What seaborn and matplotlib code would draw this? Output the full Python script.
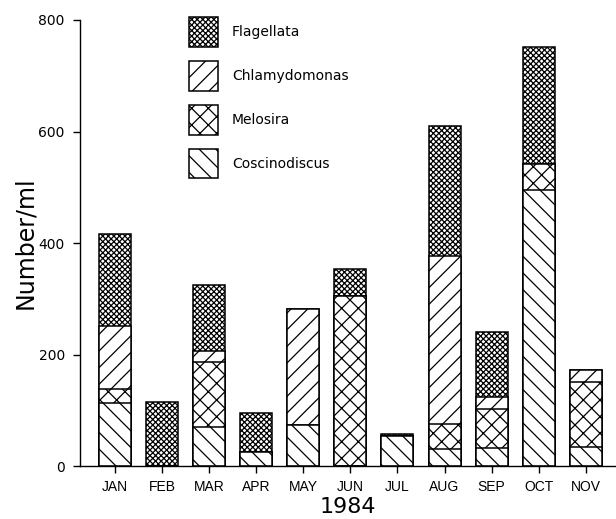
import seaborn as sns
from matplotlib import pyplot as plt
import pandas as pd

months = ['JAN', 'FEB', 'MAR', 'APR', 'MAY', 'JUN', 'JUL', 'AUG', 'SEP', 'OCT', 'NOV']
coscinodiscus = [113, 0, 70, 25, 74, 0, 54, 31, 32, 495, 34]
melosira = [26, 0, 116, 0, 0, 305, 0, 45, 70, 46, 116]
chlamydomonas = [113, 0, 21, 0, 207, 0, 0, 301, 21, 0, 23]
flagellata = [164, 115, 117, 70, 0, 48, 4, 232, 117, 210, 0]

# bottom -> top
series = [
    ('Coscinodiscus', coscinodiscus, '\\\\'),
    ('Melosira', melosira, 'xx'),
    ('Chlamydomonas', chlamydomonas, '//'),
    ('Flagellata', flagellata, 'xxxxxx'),
]

sns.set_style('ticks')
plt.rcParams['font.family'] = ['DejaVu Sans']
plt.rcParams['hatch.linewidth'] = 0.9
plt.rcParams['text.color'] = 'black'
plt.rcParams['axes.labelcolor'] = 'black'

df = pd.DataFrame({'month': months})
cum = [0] * len(months)
layers = []
for name, vals, hatch in series:
    cum = [c + v for c, v in zip(cum, vals)]
    layers.append((name, list(cum), hatch))

fig = plt.figure(figsize=(6.16, 5.19), dpi=100)
ax = fig.add_axes([0.130, 0.102, 0.870, 0.8595])

# draw tallest cumulative first so the lower layers cover it
for name, top, hatch in reversed(layers):
    df['value'] = top
    sns.barplot(data=df, x='month', y='value', color='white', saturation=1,
                edgecolor='black', linewidth=1.1, hatch=hatch, width=0.68,
                errorbar=None, label=name, ax=ax)

ax.set_ylim(0, 800)
ax.set_xlim(-0.74, 10.64)
ax.set_yticks([0, 200, 400, 600, 800])
sns.despine(ax=ax)
ax.spines['left'].set_linewidth(1.0)
ax.spines['bottom'].set_linewidth(1.0)
ax.spines['left'].set_color('black')
ax.spines['bottom'].set_color('black')
ax.tick_params(axis='both', direction='out', length=5, width=1.0, colors='black')
ax.tick_params(axis='x', pad=5)
ax.tick_params(axis='y', pad=6, labelsize=10)
for lab in ax.get_xticklabels():
    lab.set_fontfamily('Liberation Sans')
    lab.set_fontsize(10)

ax.set_xlabel('1984', fontsize=16, labelpad=2)
ax.set_ylabel('Number/ml', fontsize=17, labelpad=1)

handles, labels = ax.get_legend_handles_labels()
ax.legend(handles, labels, loc='upper left', bbox_to_anchor=(189 / 616, 1 - 17 / 519),
          bbox_transform=fig.transFigure, frameon=False, fontsize=10,
          handlelength=2.1, handleheight=2.94, labelspacing=1.0,
          handletextpad=1.0, borderpad=0, borderaxespad=0)

fig.savefig('out.png')
